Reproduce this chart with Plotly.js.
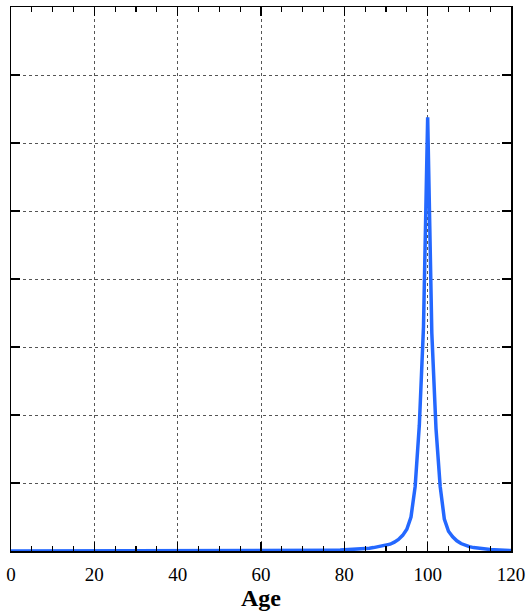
<!DOCTYPE html>
<html>
<head>
<meta charset="utf-8">
<script src="https://cdn.plot.ly/plotly-3.0.1.min.js"></script>
<style>html,body{margin:0;padding:0;background:#fff;}#chart{width:526px;height:615px;}</style>
</head>
<body>
<div id="chart"></div>
<script>
// Ages 0..120
const ages = [];
for (let a = 0; a <= 120; a++) ages.push(a);

// Density values (arbitrary units, ages 0..120)
const density = [
  0,0,0,0,0,0,0,0,0,0,           // 0-9
  0,0,0,0,0,0,0,0,0,0,           // 10-19
  0,0,0,0,0,0,0,0,0,0,           // 20-29
  0,0,0,0,0,0,0,0,0,0,           // 30-39
  0,0,0,0,0,0,0,0,0,0,           // 40-49
  0,0,0,0,0,0,0,0,0,0,           // 50-59
  0,0,0,0,0,0,0,0,0,0,           // 60-69
  0,0,0,0,0,0.01,0.01,0.01,0.012,0.013, // 70-79
  0.015,0.018,0.02,0.024,0.03,0.035,0.04,0.05,0.06,0.07, // 80-89
  0.085,0.1,0.13,0.17,0.23,0.32,0.5,0.95,1.85,3.3,       // 90-99
  6.38,3.2,1.8,0.95,0.47,0.29,0.21,0.15,0.11,0.085,      // 100-109
  0.065,0.05,0.04,0.033,0.027,0.022,0.018,0.014,0.011,0.008, // 110-119
  0.006                                                   // 120
];

const xTickVals = [0, 20, 40, 60, 80, 100, 120];
const xTickText = ["0", "20", "40", "60", "80", "100", "120"];
const xTitle = "Age";

const trace = {
  x: ages,
  y: density,
  type: "scatter",
  mode: "lines",
  line: {color: "#2468ff", width: 3.5},
  hoverinfo: "skip"
};

const serif = "Liberation Serif, Times New Roman, serif";

const layout = {
  width: 526,
  height: 615,
  margin: {l: 11, r: 15, t: 7, b: 64},
  paper_bgcolor: "#fff",
  plot_bgcolor: "#fff",
  showlegend: false,
  xaxis: {
    range: [0, 120],
    tickmode: "array",
    tickvals: xTickVals,
    ticktext: xTickText,
    ticks: "inside",
    ticklen: 9,
    tickwidth: 1.2,
    tickcolor: "#000",
    ticklabelstandoff: 6,
    minor: {dtick: 5, tick0: 0, ticks: "inside", ticklen: 5, tickwidth: 1.2, tickcolor: "#000", showgrid: false},
    showline: true,
    linecolor: "#000",
    linewidth: 1.5,
    mirror: "ticks",
    showgrid: true,
    gridcolor: "#555",
    griddash: "dot",
    gridwidth: 1,
    zeroline: false,
    tickfont: {family: serif, size: 19, color: "#000"},
    title: {text: "<b>" + xTitle + "</b>", font: {family: serif, size: 24, color: "#000"}, standoff: 3},
    automargin: false
  },
  yaxis: {
    range: [0, 8],
    dtick: 1,
    tick0: 0,
    ticks: "inside",
    ticklen: 9,
    tickwidth: 1.2,
    tickcolor: "#000",
    showticklabels: false,
    showline: true,
    linecolor: "#000",
    linewidth: 1.5,
    mirror: "ticks",
    showgrid: true,
    gridcolor: "#555",
    griddash: "dot",
    gridwidth: 1,
    zeroline: false,
    automargin: false
  }
};

Plotly.newPlot("chart", [trace], layout, {staticPlot: true, displayModeBar: false});
</script>
</body>
</html>
